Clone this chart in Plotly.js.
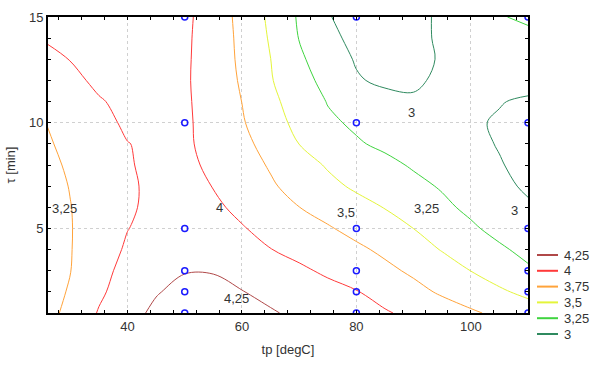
<!DOCTYPE html>
<html>
<head>
<meta charset="utf-8">
<script src="https://cdn.plot.ly/plotly-3.0.1.min.js"></script>
<style>html,body{margin:0;padding:0;background:#fff;}#chart{width:600px;height:368px;}</style>
</head>
<body>
<div id="chart"></div>
<script>
// grid of tp [degC] and tau [min] values
const tpGrid = [26, 30, 35, 40, 45, 50, 55, 60, 65, 70, 75, 80, 85, 90, 95, 100, 105, 110];
const tauGrid = [1, 2, 3, 4, 5, 6, 7, 8, 9, 10, 11, 12, 13, 14, 15];
// response surface values (rows = tau, cols = tp)
const zRow1  = [3.67, 3.824, 4.016, 4.181, 4.29, 4.359, 4.378, 4.323, 4.269, 4.209, 4.146, 4.084, 4.021, 3.946, 3.864, 3.783, 3.70, 3.62];
const zRow2  = [3.632, 3.779, 3.963, 4.105, 4.237, 4.305, 4.302, 4.256, 4.196, 4.134, 4.073, 4.011, 3.917, 3.817, 3.719, 3.627, 3.535, 3.443];
const zRow3  = [3.617, 3.745, 3.917, 4.08, 4.18, 4.24, 4.24, 4.19, 4.12, 4.04, 3.962, 3.881, 3.801, 3.712, 3.605, 3.498, 3.391, 3.284];
const zRow4  = [3.627, 3.741, 3.885, 4.03, 4.11, 4.16, 4.14, 4.09, 4.005, 3.933, 3.862, 3.792, 3.706, 3.596, 3.488, 3.387, 3.286, 3.186];
const zRow5  = [3.638, 3.740, 3.867, 3.995, 4.07, 4.11, 4.09, 4.015, 3.929, 3.850, 3.771, 3.682, 3.591, 3.499, 3.393, 3.286, 3.179, 3.072];
const zRow6  = [3.655, 3.745, 3.859, 3.973, 4.05, 4.075, 4.04, 3.948, 3.849, 3.752, 3.664, 3.579, 3.492, 3.395, 3.298, 3.2, 3.115, 3.03];
const zRow7  = [3.676, 3.758, 3.87, 3.98, 4.03, 4.035, 3.996, 3.887, 3.778, 3.669, 3.559, 3.464, 3.387, 3.309, 3.229, 3.142, 3.054, 2.967];
const zRow8  = [3.70, 3.779, 3.88, 3.99, 4.03, 4.035, 3.97, 3.845, 3.729, 3.597, 3.478, 3.392, 3.307, 3.226, 3.154, 3.083, 3.011, 2.95];
const zRow9  = [3.729, 3.804, 3.897, 3.995, 4.04, 4.035, 3.929, 3.810, 3.667, 3.498, 3.386, 3.273, 3.207, 3.152, 3.098, 3.043, 2.99, 2.94];
const zRow10 = [3.755, 3.834, 3.933, 4.035, 4.07, 4.04, 3.903, 3.771, 3.6, 3.435, 3.288, 3.215, 3.168, 3.121, 3.074, 3.027, 2.98, 2.94];
const zRow11 = [3.80, 3.886, 3.984, 4.05, 4.07, 4.035, 3.892, 3.748, 3.558, 3.389, 3.24, 3.155, 3.071, 3.02, 3.03, 3.03, 3.01, 2.97];
const zRow12 = [3.87, 3.95, 4.04, 4.08, 4.08, 4.03, 3.884, 3.725, 3.517, 3.338, 3.178, 3.02, 2.96, 2.975, 3.03, 3.05, 3.06, 3.08];
const zRow13 = [3.95, 4.005, 4.06, 4.09, 4.085, 4.035, 3.88, 3.708, 3.502, 3.292, 3.113, 2.982, 2.93, 2.94, 3.02, 3.06, 3.09, 3.13];
const zRow14 = [4.02, 4.05, 4.08, 4.1, 4.09, 4.04, 3.882, 3.697, 3.476, 3.243, 3.05, 2.95, 2.91, 2.93, 3.04, 3.08, 3.12, 3.15];
const zRow15 = [4.07, 4.09, 4.1, 4.11, 4.1, 4.05, 3.883, 3.682, 3.453, 3.223, 3.01, 2.94, 2.9, 2.93, 3.042, 3.133, 3.224, 3.316];

// experimental design points
const ptsTp  = [50, 50, 50, 50, 50, 50, 80, 80, 80, 80, 80, 80, 110, 110, 110, 110, 110, 110];
const ptsTau = [1, 2, 3, 5, 10, 15, 1, 2, 3, 5, 10, 15, 1, 2, 3, 5, 10, 15];

// contour levels and legend
const levelNames  = ['4,25', '4', '3,75', '3,5', '3,25', '3'];
const levelColors = ['#b04848', '#ff3a3a', '#ffa33a', '#e4f53a', '#3fd43f', '#2f8a5f'];

// in-plot labels
const labelText = ['3,25', '4', '4,25', '3,5', '3,25', '3', '3'];
const labelTp   = [29, 56, 59.1, 78.2, 92.3, 107.7, 89.6];
const labelTau  = [5.94, 5.99, 1.7, 5.74, 5.94, 5.86, 10.5];

const zGrid = [zRow1, zRow2, zRow3, zRow4, zRow5, zRow6, zRow7, zRow8, zRow9, zRow10, zRow11, zRow12, zRow13, zRow14, zRow15];

const FONT = 'Liberation Sans, Arial, sans-serif';
const M = {l: 48, r: 72, t: 17, b: 55};
const W = 600, H = 368;
const PW = W - M.l - M.r, PH = H - M.t - M.b;
const px2x = px => (px - M.l) / PW;
const py2y = py => (H - M.b - py) / PH;

const colorscale = [
  [0.0, levelColors[5]], [0.2, levelColors[4]], [0.4, levelColors[3]],
  [0.6, levelColors[2]], [0.8, levelColors[1]], [1.0, levelColors[0]]
];

const traces = [{
  type: 'contour',
  x: tpGrid, y: tauGrid, z: zGrid,
  autocontour: false,
  contours: {start: 3, end: 4.25, size: 0.25, coloring: 'lines', showlabels: false},
  zmin: 3, zmax: 4.25,
  colorscale: colorscale,
  showscale: false,
  line: {width: 1, smoothing: 1.0},
  hoverinfo: 'skip',
  showlegend: false
}, {
  type: 'scatter', mode: 'markers',
  x: ptsTp, y: ptsTau,
  marker: {symbol: 'circle-open', size: 6, color: '#1a1aff', line: {width: 1.5, color: '#1a1aff'}},
  cliponaxis: true,
  showlegend: false
}];

const annotations = labelText.map((t, i) => ({
  x: labelTp[i], y: labelTau[i], xref: 'x', yref: 'y', text: t,
  showarrow: false, font: {family: FONT, size: 13, color: '#333'}
}));

// manual legend (line sample + label) for the contour levels
const shapes = [];
const legTop = 255, legStep = 15.8;
levelNames.forEach((n, i) => {
  const py = legTop + i * legStep;
  shapes.push({
    type: 'line', xref: 'paper', yref: 'paper',
    x0: px2x(537), x1: px2x(558), y0: py2y(py), y1: py2y(py),
    line: {color: levelColors[i], width: 2}
  });
  annotations.push({
    xref: 'paper', yref: 'paper', x: px2x(562), y: py2y(py),
    xanchor: 'left', yanchor: 'middle', text: n, showarrow: false,
    font: {family: FONT, size: 13, color: '#333'}
  });
});

const axisCommon = {
  showline: true, linewidth: 2, linecolor: '#000', mirror: 'ticks',
  ticks: 'inside', ticklen: 3, tickwidth: 1, tickcolor: '#000',
  showgrid: true, gridcolor: '#d0d0d0', griddash: 'dot', gridwidth: 1,
  zeroline: false,
  tickfont: {family: FONT, size: 13, color: '#333'}
};

const layout = {
  width: W, height: H,
  margin: Object.assign({autoexpand: false}, M),
  paper_bgcolor: '#fff', plot_bgcolor: '#fff',
  font: {family: FONT, size: 13, color: '#333'},
  xaxis: Object.assign({}, axisCommon, {
    range: [26.1, 110], tick0: 0, dtick: 20,
    minor: {dtick: 4, tick0: 0, ticks: 'inside', ticklen: 3, tickcolor: '#000', showgrid: false},
    title: {text: 'tp [degC]', standoff: 12, font: {size: 13, color: '#333'}}
  }),
  yaxis: Object.assign({}, axisCommon, {
    range: [1, 15], tick0: 0, dtick: 5,
    minor: {dtick: 1, tick0: 0, ticks: 'inside', ticklen: 3, tickcolor: '#000', showgrid: false},
    title: {text: 'τ [min]', standoff: 10, font: {size: 13, color: '#333'}}
  }),
  shapes: shapes,
  annotations: annotations,
  showlegend: false
};

Plotly.newPlot('chart', traces, layout, {staticPlot: true, displayModeBar: false});
</script>
</body>
</html>
